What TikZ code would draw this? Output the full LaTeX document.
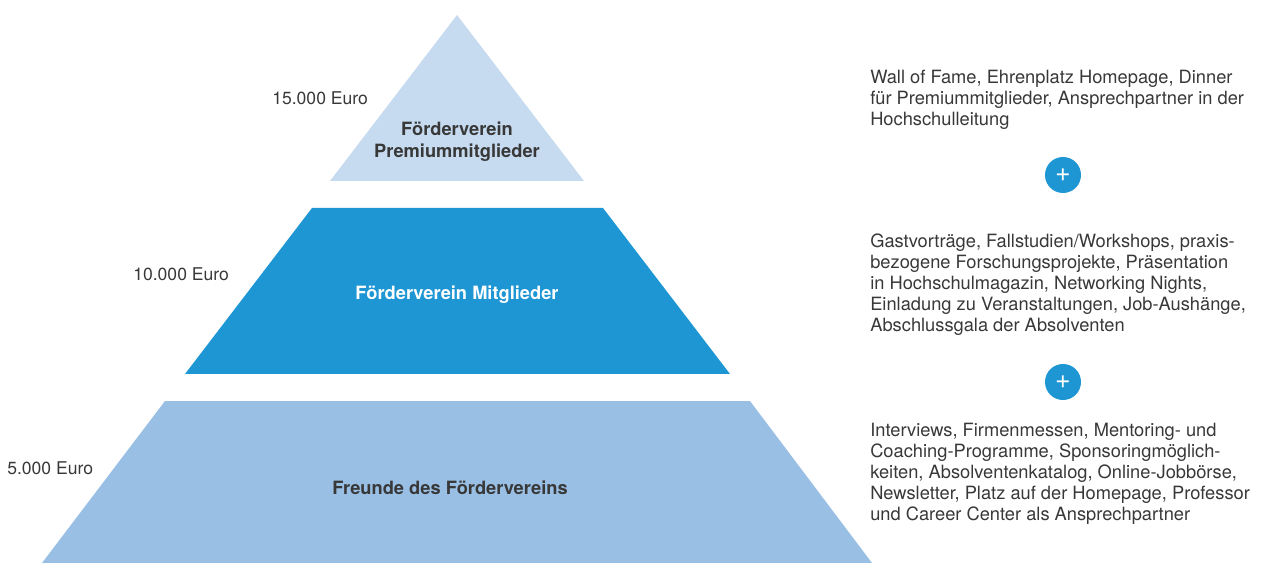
\documentclass[tikz,border=0pt]{standalone}
\usepackage{fontspec}
\setmainfont{TeX Gyre Heros}

\definecolor{tierTop}{HTML}{C6DBF0}
\definecolor{tierMid}{HTML}{1E96D4}
\definecolor{tierLow}{HTML}{99BFE5}
\definecolor{ink}{HTML}{383838}

\begin{document}
\begin{tikzpicture}[
	x=0.025cm, y=-0.025cm,
	tier/.style={
		font=\fontsize{13}{15.5}\selectfont\bfseries,
		align=center, text=ink, inner sep=0pt
	},
	price/.style={font=\fontsize{12.5}{15}\selectfont, text=ink, anchor=west, inner sep=0pt},
	perks/.style={
		font=\fontsize{13}{14.9}\selectfont, text=ink,
		align=left, anchor=north west, inner sep=0pt
	},
	plus/.style={
		circle, fill=tierMid, minimum size=0.9cm, inner sep=0pt,
		text=white, font=\fontsize{19}{19}\selectfont
	}
]
\useasboundingbox (0,0) rectangle (1268,563);

% pyramid, three slices of one triangle
\fill[tierTop] (457,15) -- (584,181) -- (330,181) -- cycle;
\fill[tierMid] (312,208) -- (603,208) -- (730,374) -- (185,374) -- cycle;
\fill[tierLow] (165,401) -- (750,401) -- (872,563) -- (42,563) -- cycle;

\node[tier] (premium) at (457,142) {Förderverein\\Premiummitglieder};
\node[tier, text=white] (members) at (457,295) {Förderverein Mitglieder};
\node[tier] (friends) at (450,488) {Freunde des Fördervereins};

\node[price] (pPremium) at (272,98)  {15.000 Euro};
\node[price] (pMembers) at (133,274) {10.000 Euro};
\node[price] (pFriends) at (7,468)   {5.000 Euro};

\node[perks] (perksPremium) at (870,70) {Wall of Fame, Ehrenplatz Homepage, Dinner\\für Premiummitglieder, Ansprechpartner in der\\Hochschulleitung};
\node[perks] (perksMembers) at (870,234) {Gastvorträge, Fallstudien/Workshops, praxis-\\bezogene Forschungsprojekte, Präsentation\\in Hochschulmagazin, Networking Nights,\\Einladung zu Veranstaltungen, Job-Aushänge,\\Abschlussgala der Absolventen};
\node[perks] (perksFriends) at (870,423) {Interviews, Firmenmessen, Mentoring- und\\Coaching-Programme, Sponsoringmöglich-\\keiten, Absolventenkatalog, Online-Jobbörse,\\Newsletter, Platz auf der Homepage, Professor\\und Career Center als Ansprechpartner};

\node[plus] (plusUpper) at (1063,175) {+};
\node[plus] (plusLower) at (1063,382) {+};

\end{tikzpicture}
\end{document}
